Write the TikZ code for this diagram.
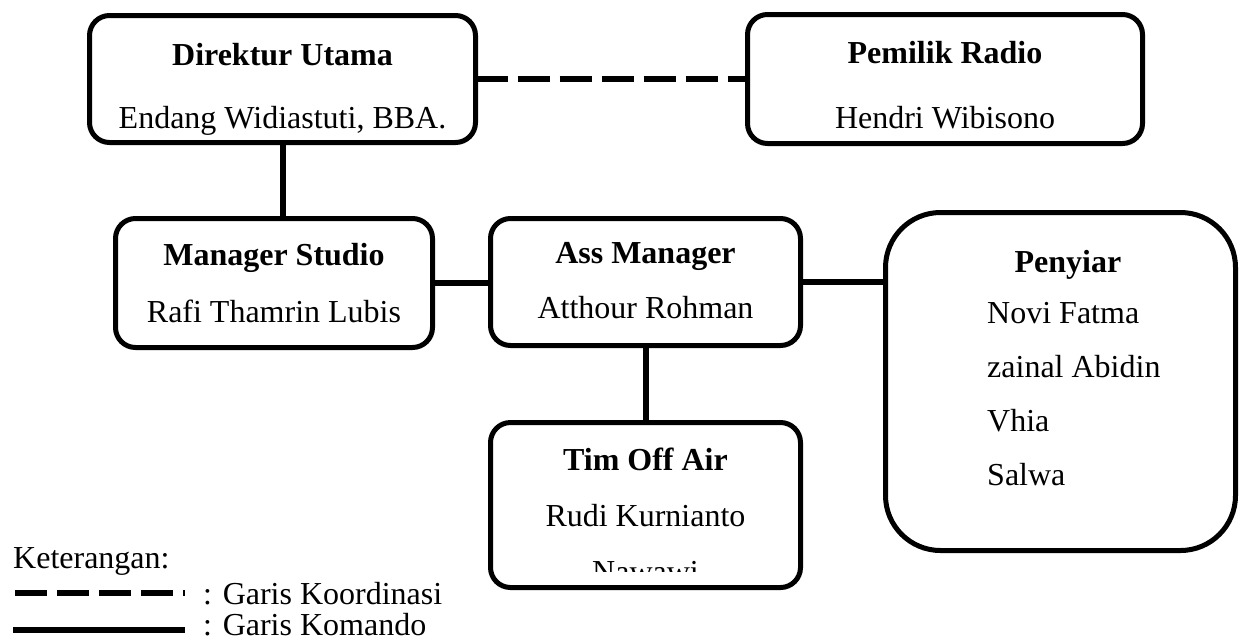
\documentclass[tikz,border=0pt]{standalone}
\usepackage{fontspec}
\setmainfont{Liberation Serif}
\usetikzlibrary{positioning,calc}

\begin{document}
\begin{tikzpicture}[
  x=1pt,y=-1pt,
  every node/.style={font=\fontsize{32}{56}\selectfont},
  kotak/.style={rectangle,draw,line width=5pt,rounded corners=20pt,inner sep=0pt,outer sep=0pt},
  isi/.style={inner sep=0pt,text width=#1,align=flush center,anchor=base},
  komando/.style={line width=6pt},
  koordinasi/.style={line width=6pt,dash pattern=on 32pt off 10pt},
  ket/.style={inner sep=0pt,anchor=base west},
]
\useasboundingbox (0,0) rectangle (1241,641);

% Direktur Utama
\node[kotak,minimum width=386pt,minimum height=127pt] (dirut) at (282.5,79) {};
\node[isi=380pt] (dirut-isi) at ($(dirut.north)+(0,49.5)$) {\textbf{Direktur Utama}\\[7pt]Endang Widiastuti, BBA.};

% Pemilik Radio
\node[kotak,minimum width=395pt,minimum height=129pt] (pemilik) at (945,79) {};
\node[isi=390pt] (pemilik-isi) at ($(pemilik.north)+(0,48.5)$) {\textbf{Pemilik Radio}\\[9pt]Hendri Wibisono};

% Manager Studio
\node[kotak,minimum width=317pt,minimum height=129pt] (ms) at (274,283) {};
\node[isi=310pt] (ms-isi) at ($(ms.north)+(0,46.5)$) {\textbf{Manager Studio}\\[1pt]Rafi Thamrin Lubis};

% Ass Manager
\node[kotak,minimum width=310pt,minimum height=127pt] (am) at (645.5,282) {};
\node[isi=300pt] (am-isi) at ($(am.north)+(0,44.5)$) {\textbf{Ass Manager}\\[-1pt]Atthour Rohman};

% Tim Off Air
\node[kotak,minimum width=310pt,minimum height=165pt] (tim) at (645.5,505) {};
\begin{scope}
  \clip (tim.north west) rectangle ($(tim.south east)+(0,-16)$);
  \node[isi=300pt] (tim-isi) at ($(tim.north)+(0,47.5)$) {\textbf{Tim Off Air}\\Rudi Kurnianto\\Nawawi};
\end{scope}

% Penyiar
\node[kotak,rounded corners=55pt,minimum width=350pt,minimum height=338pt] (pen) at (1060.5,381.5) {};
\node[isi=200pt] (pen-judul) at ($(pen.north)+(7.5,59.5)$) {\textbf{Penyiar}};
\node[isi=200pt,align=flush left,anchor=base west,font=\fontsize{32}{54}\selectfont] (pen-isi) at ($(pen.north west)+(101.5,110.5)$) {Novi Fatma\\zainal Abidin\\Vhia\\Salwa};

% Garis
\draw[koordinasi] (dirut.east) -- (dirut.east -| pemilik.west);
\draw[komando] (dirut.south) -- (dirut.south |- ms.north);
\draw[komando] (ms.east) -- (ms.east -| am.west);
\draw[komando] (am.east) -- (am.east -| pen.west);
\draw[komando] (am.south) -- (tim.north);

% Keterangan
\node[ket] (ket) at (13,568) {Keterangan:};
\coordinate (garis-koor) at (15,593);
\draw[koordinasi] (garis-koor) -- ++(170,0);
\node[ket] (ket-koor) at (203,604) {: Garis Koordinasi};
\coordinate (garis-kom) at (13,630);
\draw[komando] (garis-kom) -- ++(172,0);
\node[ket] (ket-kom) at (203,635) {: Garis Komando};

\end{tikzpicture}
\end{document}
